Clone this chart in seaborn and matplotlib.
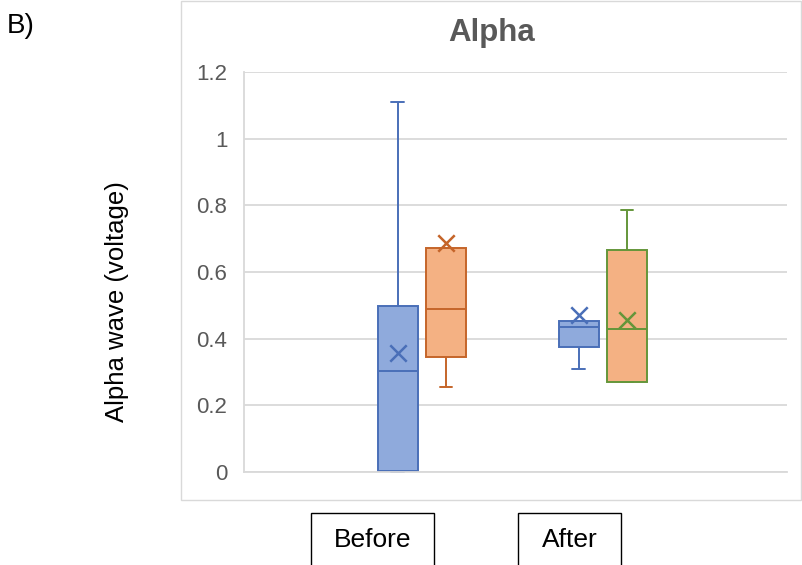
import numpy as np
import pandas as pd
import matplotlib
matplotlib.use("Agg")
import matplotlib.pyplot as plt
from matplotlib.patches import Rectangle
import seaborn as sns

# ---------------- data ----------------
categories = ["Before", "After"]
series = ["Series 1", "Series 2"]

s1_min = [0.000, 0.308]
s1_q1 = [0.004, 0.374]
s1_med = [0.303, 0.436]
s1_q3 = [0.499, 0.453]
s1_max = [1.109, 0.453]
s1_mean = [0.357, 0.471]

s2_min = [0.256, 0.271]
s2_q1 = [0.346, 0.271]
s2_med = [0.488, 0.428]
s2_q3 = [0.673, 0.666]
s2_max = [0.673, 0.786]
s2_mean = [0.686, 0.456]

y_ticks = [0, 0.2, 0.4, 0.6, 0.8, 1, 1.2]
y_tick_labels = ["0", "0.2", "0.4", "0.6", "0.8", "1", "1.2"]

# ---------------- build long table ----------------
rows = []
summ = {
    series[0]: (s1_min, s1_q1, s1_med, s1_q3, s1_max),
    series[1]: (s2_min, s2_q1, s2_med, s2_q3, s2_max),
}
for s, arrs in summ.items():
    for i, c in enumerate(categories):
        for a in arrs:
            rows.append({"cat": c, "series": s, "val": a[i]})
df = pd.DataFrame(rows)
means = {series[0]: s1_mean, series[1]: s2_mean}

# ---------------- styling ----------------
sns.set_style("white")
plt.rcParams["font.family"] = ["Liberation Sans", "DejaVu Sans"]

blue_fill, blue_edge = "#8FAADC", "#4A6FB8"
orange_fill, orange_edge = "#F4B183", "#C5652A"
green_edge = "#64963A"
grid_c = "#D9D9D9"
text_grey = "#595959"

W, H = 802, 565
fig = plt.figure(figsize=(W / 100, H / 100), dpi=100)
ax = fig.add_axes([244 / W, (H - 472) / H, (787 - 244) / W, (472 - 72) / H])

sns.boxplot(
    data=df, x="cat", y="val", hue="series", order=categories,
    hue_order=series, palette=[blue_fill, orange_fill], saturation=1,
    whis=(0, 100), width=0.533, gap=0.17, dodge=True,
    linewidth=1.4, showfliers=False, legend=False, ax=ax,
)

edge_colors = {
    (0, 0): blue_edge, (0, 1): blue_edge,
    (1, 0): orange_edge, (1, 1): green_edge,
}
for h, cont in enumerate(ax.containers):
    for i, box in enumerate(cont.boxes):
        ec = edge_colors[(h, i)]
        box.set_edgecolor(ec)
        box.set_facecolor([blue_fill, orange_fill][h])
        verts = box.get_path().vertices
        xs = verts[:, 0]
        xc = (xs.min() + xs.max()) / 2
        bw = xs.max() - xs.min()
        cont.medians[i].set_color(ec)
        for ln in cont.whiskers[2 * i:2 * i + 2]:
            ln.set_color(ec)
        for ln in cont.caps[2 * i:2 * i + 2]:
            ln.set_color(ec)
            ln.set_xdata([xc - bw * 0.16, xc + bw * 0.16])
            ln.set_clip_on(False)
        ax.scatter([xc], [means[series[h]][i]], marker="x", s=140,
                   color=ec, linewidths=1.8, zorder=5)

ax.set_xlim(-0.983, 2.017)
ax.set_ylim(0, 1.2)
ax.set_yticks(y_ticks)
ax.set_yticklabels(y_tick_labels)
ax.tick_params(axis="y", length=0, pad=12, labelsize=16, labelcolor=text_grey)
ax.tick_params(axis="x", length=0, labelbottom=False)
ax.set_xlabel("")
ax.set_ylabel("")
ax.yaxis.grid(True, color=grid_c, lw=1.3)
ax.set_axisbelow(True)
for sp in ["top", "right"]:
    ax.spines[sp].set_visible(False)
ax.spines["left"].set_color(grid_c)
ax.spines["left"].set_linewidth(1.3)
ax.spines["bottom"].set_color(grid_c)
ax.spines["bottom"].set_linewidth(1.3)

# chart area border
fig.patches.append(Rectangle((181 / W, (H - 500) / H), (801 - 181) / W, 499 / H,
                             transform=fig.transFigure, fill=False,
                             edgecolor=grid_c, lw=1.0))

# title
fig.text(492 / W, 1 - 33 / H, "Alpha", ha="center", va="center",
         fontsize=22.5, fontweight="bold", color=text_grey)

# panel label
fig.text(7 / W, 1 - 26 / H, "B)", ha="left", va="center", fontsize=20, color="black")

# y axis label
fig.text(117 / W, 1 - 302 / H, "Alpha wave (voltage)", rotation=90,
         ha="center", va="center", fontsize=18.5, color="black")

# category label boxes
for (x0, x1), lab in zip([(311, 434), (518, 621)], categories):
    fig.patches.append(Rectangle((x0 / W, -10 / H), (x1 - x0) / W, (H - 513 + 10) / H,
                                 transform=fig.transFigure, fill=False,
                                 edgecolor="black", lw=1.0, clip_on=False))
    fig.text((x0 + x1) / 2 / W, 1 - 540 / H, lab, ha="center", va="center",
             fontsize=19, color="black")

fig.savefig("out.png", dpi=100)
